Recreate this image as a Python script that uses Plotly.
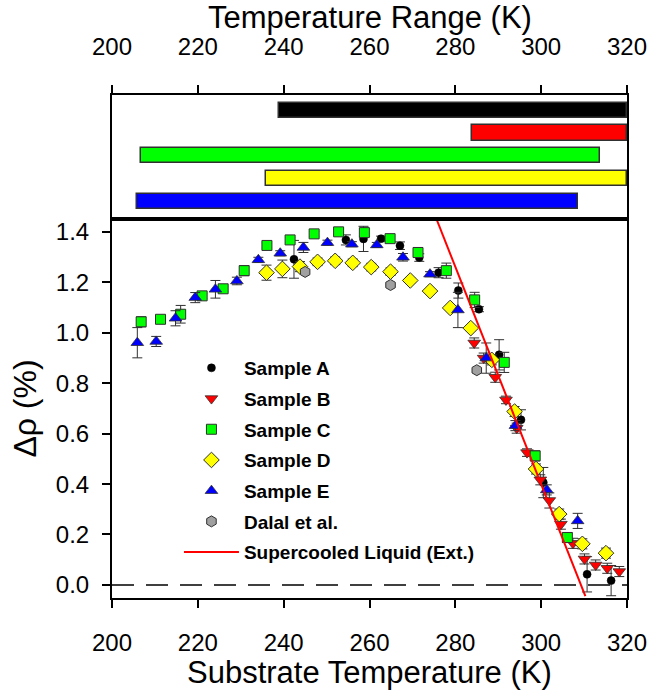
import plotly.graph_objects as go

# ---------------- data ----------------
# Upper panel: temperature range of each sample (K)
RANGE_SAMPLES = ["Sample A", "Sample B", "Sample C", "Sample D", "Sample E"]
RANGE_ROW = [5, 4, 3, 2, 1]
RANGE_START = [238.9, 283.8, 206.8, 235.9, 205.8]
RANGE_END = [320.0, 320.0, 313.8, 320.0, 308.6]
RANGE_COLORS = ["#000000", "#ff0000", "#00ff00", "#ffff00", "#0000ff"]

# Lower panel: delta rho (%) vs substrate temperature (K)
A_T = [242.4, 254.5, 258.6, 262.7, 267.1, 271.6, 276.1, 280.7, 285.5, 290.2, 295.3, 300.5, 310.7, 316.3]
A_Y = [1.292, 1.369, 1.373, 1.374, 1.346, 1.299, 1.239, 1.168, 1.094, 0.913, 0.655, 0.406, 0.042, 0.017]
A_E = [0.075, 0.02, 0.05, 0.01, 0.015, 0.015, 0.02, 0.03, 0.01, 0.06, 0.04, 0.06, 0.07, 0.06]

B_T = [284.4, 286.6, 289.3, 291.8, 294.3, 296.7, 299.8, 301.9, 304.6, 307.4, 310.1, 312.7, 315.4, 318.2]
B_Y = [0.960, 0.900, 0.824, 0.734, 0.622, 0.525, 0.417, 0.335, 0.241, 0.165, 0.103, 0.079, 0.066, 0.053]
B_E = [0.02, 0.02, 0.02, 0.015, 0.02, 0.015, 0.02, 0.03, 0.02, 0.02, 0.02, 0.02, 0.02, 0.02]

C_T = [206.8, 211.3, 216.0, 221.0, 225.9, 230.8, 236.1, 241.5, 247.1, 252.8, 258.8, 264.8, 271.3, 277.9, 284.5, 291.4, 298.6, 306.1]
C_Y = [1.044, 1.054, 1.074, 1.147, 1.175, 1.247, 1.347, 1.369, 1.393, 1.401, 1.398, 1.374, 1.319, 1.247, 1.131, 0.883, 0.512, 0.188]
C_E = [0.02, 0.01, 0.035, 0.01, 0.01, 0.02, 0.01, 0.01, 0.01, 0.01, 0.015, 0.01, 0.02, 0.03, 0.03, 0.04, 0.02, 0.02]

D_T = [236.0, 239.7, 243.8, 247.9, 252.0, 256.1, 260.4, 264.9, 269.5, 274.1, 278.8, 283.6, 288.5, 293.8, 298.8, 304.2, 309.6, 315.1]
D_Y = [1.239, 1.254, 1.263, 1.282, 1.286, 1.278, 1.261, 1.243, 1.208, 1.166, 1.099, 1.019, 0.893, 0.688, 0.460, 0.281, 0.163, 0.126]
D_E = [0.03, 0.035, 0.02, 0.015, 0.015, 0.015, 0.015, 0.015, 0.01, 0.01, 0.01, 0.01, 0.02, 0.02, 0.02, 0.02, 0.02, 0.02]

E_T = [205.9, 210.3, 214.8, 219.4, 224.1, 229.1, 234.1, 239.2, 244.6, 250.2, 255.9, 261.7, 267.8, 274.1, 280.6, 287.2, 294.0, 301.3, 308.5]
E_Y = [0.961, 0.966, 1.058, 1.140, 1.173, 1.206, 1.290, 1.316, 1.339, 1.358, 1.352, 1.349, 1.300, 1.233, 1.091, 0.900, 0.632, 0.377, 0.254]
E_E = [0.06, 0.02, 0.03, 0.02, 0.035, 0.015, 0.01, 0.01, 0.02, 0.01, 0.01, 0.01, 0.015, 0.01, 0.07, 0.06, 0.02, 0.02, 0.03]

DALAL_T = [245.0, 264.9, 285.0]
DALAL_Y = [1.242, 1.190, 0.852]

# Supercooled liquid extrapolation (end points of straight line)
SCL_T = [275.6, 310.3]
SCL_Y = [1.452, -0.045]

# Zero reference line
ZERO_T = [200, 320]
ZERO_Y = [0, 0]

X_TICKS = [200, 220, 240, 260, 280, 300, 320]
Y_TICKS = [0.0, 0.2, 0.4, 0.6, 0.8, 1.0, 1.2, 1.4]

# ---------------- figure ----------------
FONT = "Liberation Sans, Arial, Helvetica, sans-serif"
EDGE = "#303030"

fig = go.Figure()

# upper panel bars
fig.add_trace(go.Bar(
    y=RANGE_ROW,
    x=[e - s for s, e in zip(RANGE_START, RANGE_END)],
    base=RANGE_START,
    orientation="h",
    width=0.667,
    marker=dict(color=RANGE_COLORS, line=dict(color=EDGE, width=1.5)),
    text=RANGE_SAMPLES, textposition="none", hoverinfo="text+x",
    xaxis="x2", yaxis="y2", showlegend=False,
))

# zero dashed line
fig.add_trace(go.Scatter(
    x=ZERO_T, y=ZERO_Y, mode="lines",
    line=dict(color="black", width=1.5, dash="22px,12px"),
    showlegend=False, hoverinfo="skip",
))


def err(arr):
    return dict(type="data", array=arr, visible=True, color="#303030", thickness=1, width=5)


fig.add_trace(go.Scatter(
    x=A_T, y=A_Y, mode="markers", name="Sample A", error_y=err(A_E), legendgroup="a",
    marker=dict(symbol="circle", size=8, color="#000000", line=dict(color="#000000", width=0.5)),
))
fig.add_trace(go.Scatter(
    x=B_T, y=B_Y, mode="markers", name="Sample B", error_y=err(B_E), legendgroup="b",
    marker=dict(symbol="triangle-down", size=11, color="#ff0000", line=dict(color=EDGE, width=0.8)),
))
fig.add_trace(go.Scatter(
    x=C_T, y=C_Y, mode="markers", name="Sample C", error_y=err(C_E), legendgroup="c",
    marker=dict(symbol="square", size=10, color="#00ff00", line=dict(color=EDGE, width=1)),
))
fig.add_trace(go.Scatter(
    x=D_T, y=D_Y, mode="markers", name="Sample D", error_y=err(D_E), legendgroup="d",
    marker=dict(symbol="diamond", size=12, color="#ffff00", line=dict(color=EDGE, width=1)),
))
fig.add_trace(go.Scatter(
    x=E_T, y=E_Y, mode="markers", name="Sample E", error_y=err(E_E), legendgroup="e",
    marker=dict(symbol="triangle-up", size=11, color="#0000ff", line=dict(color=EDGE, width=0.8)),
))
fig.add_trace(go.Scatter(
    x=DALAL_T, y=DALAL_Y, mode="markers", name="Dalal et al.", legendgroup="f",
    marker=dict(symbol="hexagon", size=11, color="#a0a0a0", line=dict(color=EDGE, width=1)),
))
fig.add_trace(go.Scatter(
    x=SCL_T, y=SCL_Y, mode="lines", name="Supercooled Liquid (Ext.)", legendgroup="g",
    line=dict(color="#ff0000", width=2),
))

SPLIT = 0.7535
axis_common = dict(
    showgrid=False, zeroline=False, showline=True, linecolor="black", linewidth=2,
    ticks="outside", tickcolor="black", tickwidth=1.5, ticklen=8, automargin=False,
    ticklabeloverflow="allow",
    tickfont=dict(family=FONT, size=24, color="black"),
)

fig.update_layout(
    width=652, height=691,
    margin=dict(l=112, r=25, t=95, b=93),
    paper_bgcolor="white", plot_bgcolor="white",
    font=dict(family=FONT, color="black"),
    bargap=0,
    xaxis=dict(
        **axis_common, range=[200, 320], tickvals=X_TICKS, mirror=True,
        domain=[0, 1], anchor="y", ticklabelstandoff=14,
    ),
    yaxis=dict(
        **axis_common, range=[-0.052, 1.452], tickvals=Y_TICKS, tickformat=".1f",
        mirror=True, domain=[0, SPLIT], anchor="x", ticklabelstandoff=8,
        title=dict(text="Δρ (%)", font=dict(family=FONT, size=32), standoff=10),
    ),
    xaxis2=dict(
        **axis_common, range=[200, 320], tickvals=X_TICKS, side="top", mirror=True,
        anchor="y2", ticklabelstandoff=20,
    ),
    yaxis2=dict(
        showgrid=False, zeroline=False, showline=True, linecolor="black", linewidth=2,
        mirror=True, showticklabels=False, ticks="", range=[0.23, 5.67],
        domain=[SPLIT, 1], anchor="x2", automargin=False,
    ),
    legend=dict(
        x=0.13, y=0.495, xanchor="left", yanchor="top",
        bgcolor="rgba(0,0,0,0)", borderwidth=0, traceorder="grouped", tracegroupgap=3,
        font=dict(family=FONT, size=19, color="black", weight="bold"),
        itemwidth=55,
    ),
    annotations=[
        dict(text="Temperature Range (K)", xref="paper", yref="paper", x=0.5, y=1.155,
             xanchor="center", yanchor="middle", showarrow=False,
             font=dict(family=FONT, size=31, color="black")),
        dict(text="Substrate Temperature (K)", xref="paper", yref="paper", x=0.5, y=-0.149,
             xanchor="center", yanchor="middle", showarrow=False,
             font=dict(family=FONT, size=31, color="black")),
    ],
)

fig.write_html(
    "out.html",
    config={"displayModeBar": False},
    post_script="document.body.style.margin='0px';document.body.style.overflow='hidden';",
)
